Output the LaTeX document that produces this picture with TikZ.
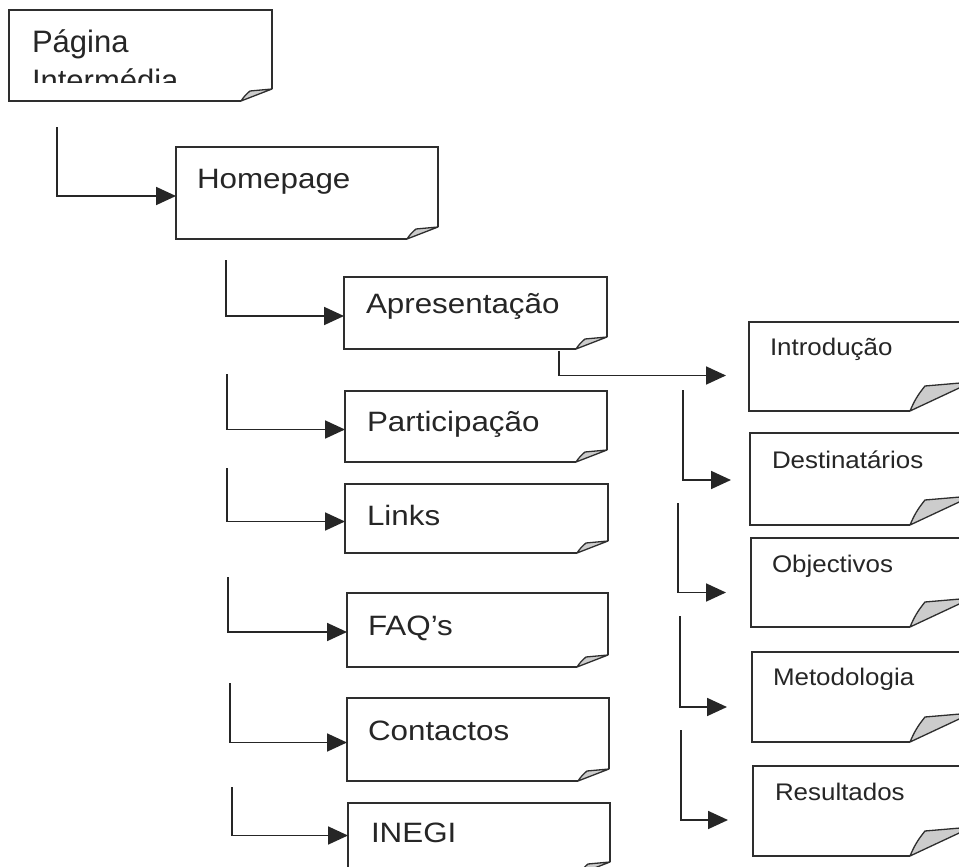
\documentclass[tikz,border=0pt]{standalone}
\usepackage{fontspec}
\setmainfont{Liberation Sans}
\newfontfamily\widesans[FakeStretch=1.12]{Liberation Sans}
\newfontfamily\narrowsans[FakeStretch=1.08]{Liberation Sans}
\usetikzlibrary{arrows.meta,calc,fit}

\tikzset{
  boxline/.style={draw=black!82, line width=2pt, line join=miter},
  curl/.style={draw=black!82, line width=1.3pt, fill=black!20, line join=round},
  conn/.style={draw=black!85, line width=1.8pt, -{Triangle[length=20pt,width=18pt]}},
  lbl/.style={anchor=base west, inner sep=0pt, outer sep=0pt, text=black!85},
  toplbl/.style={lbl, font={\fontsize{31}{37}\selectfont}},
  biglbl/.style={lbl, font={\widesans\fontsize{28}{34}\selectfont}},
  smalllbl/.style={lbl, font={\narrowsans\fontsize{24}{29}\selectfont}},
  frame/.style={inner sep=0pt, outer sep=0pt, draw=none},
}

% page with a small curled corner (left-hand column)
\newcommand{\pageboxS}[5]{%
  \node[frame, fit={(#2,#3) (#4,#5)}] (#1) {};
  \draw[boxline] ($(#1.south east)+(-31,0)$) -- (#1.south west) -- (#1.north west)
     -- (#1.north east) -- ($(#1.south east)+(0,-12)$);
  \filldraw[curl] ($(#1.south east)+(-31,0)$) to[bend left=8] ($(#1.south east)+(-22,-10)$)
     -- ($(#1.south east)+(0,-12)$) -- cycle;
}
% page with a large curled corner (right-hand column)
\newcommand{\pageboxL}[5]{%
  \node[frame, fit={(#2,#3) (#4,#5)}] (#1) {};
  \draw[boxline] ($(#1.south east)+(-62,0)$) -- (#1.south west) -- (#1.north west)
     -- (#1.north east) -- ($(#1.south east)+(0,-29)$);
  \filldraw[curl] ($(#1.south east)+(-62,0)$) to[bend left=8] ($(#1.south east)+(-47,-25)$)
     -- ($(#1.south east)+(0,-29)$) -- cycle;
}

\begin{document}
\begin{tikzpicture}[x=1pt,y=-1pt]
\useasboundingbox (0,0) rectangle (959,867);
\fill[white] (0,0) rectangle (959,867);
\clip (0,0) rectangle (959,867);

% left-hand tree
\pageboxS{pag}{9}{10}{272}{101}
\pageboxS{home}{176}{147}{438}{239}
\pageboxS{apres}{344}{277}{607}{349}
\pageboxS{partic}{345}{391}{607}{462}
\pageboxS{links}{345}{484}{608}{553}
\pageboxS{faq}{347}{593}{608}{667}
\pageboxS{cont}{347}{698}{609}{781}
\pageboxS{inegi}{348}{803}{610}{874}

% right-hand column
\pageboxL{intro}{749}{322}{972}{411}
\pageboxL{destin}{750}{433}{972}{525}
\pageboxL{obj}{751}{538}{972}{627}
\pageboxL{metod}{752}{652}{972}{742}
\pageboxL{result}{753}{766}{972}{856}

% labels
\node[toplbl] (t-pag) at (32,53) {Página};
\begin{scope}
  \clip (9,10) rectangle (272,83);
  \node[toplbl] (t-pag2) at (32,92) {Intermédia};
\end{scope}
\node[biglbl] (t-home) at (197,188) {Homepage};
\node[biglbl] (t-apres) at (366,313) {Apresentação};
\node[biglbl] (t-partic) at (367,431) {Participação};
\node[biglbl] (t-links) at (367,525) {Links};
\node[biglbl] (t-faq) at (368,635) {FAQ’s};
\node[biglbl] (t-cont) at (368,740) {Contactos};
\node[biglbl] (t-inegi) at (371,842) {INEGI};

\node[smalllbl] (t-intro) at (770,355) {Introdução};
\node[smalllbl] (t-destin) at (772,468) {Destinatários};
\node[smalllbl] (t-obj) at (772,572) {Objectivos};
\node[smalllbl] (t-metod) at (773,685) {Metodologia};
\node[smalllbl] (t-result) at (775,800) {Resultados};

% connector start points
\coordinate (s1) at (57,127);
\coordinate (s2) at (226,260);
\coordinate (s3) at (227,374);
\coordinate (s4) at (227,468);
\coordinate (s5) at (228,577);
\coordinate (s6) at (230,683);
\coordinate (s7) at (232,787);
\coordinate (s8) at (559,351);
\coordinate (s9) at (683,390);
\coordinate (s10) at (678,503);
\coordinate (s11) at (680,616);
\coordinate (s12) at (681,730);

% connectors
\draw[conn] (s1) |- ($(home.west)+(0,3)$);
\draw[conn] (s2) |- ($(apres.west)+(0,3)$);
\draw[conn] (s3) |- ($(partic.west)+(0,3)$);
\draw[conn] (s4) |- ($(links.west)+(0,3)$);
\draw[conn] (s5) |- ($(faq.west)+(0,2)$);
\draw[conn] (s6) |- ($(cont.west)+(0,3)$);
\draw[conn] (s7) |- ($(inegi.west)+(0,-3)$);
\draw[conn] (s8) |- ($(intro.west)+(-23,9)$);
\draw[conn] (s9) |- ($(destin.west)+(-19,1)$);
\draw[conn] (s10) |- ($(obj.west)+(-25,10)$);
\draw[conn] (s11) |- ($(metod.west)+(-25,10)$);
\draw[conn] (s12) |- ($(result.west)+(-25,9)$);
\end{tikzpicture}
\end{document}
